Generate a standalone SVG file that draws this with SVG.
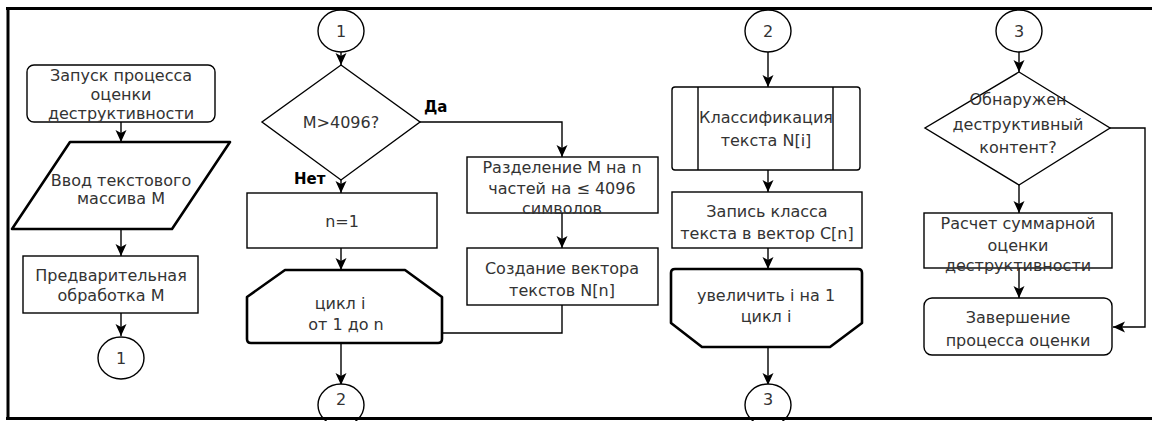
<svg xmlns="http://www.w3.org/2000/svg" width="1152" height="421" viewBox="0 0 1152 421">
<defs>
<marker id="ah" markerUnits="userSpaceOnUse" markerWidth="14" markerHeight="14" viewBox="0 0 14 14" refX="12" refY="7" orient="auto">
<path d="M0,1.5 L12,7 L0,12.5 L3,7 Z" fill="#000"/>
</marker>
<style>
.s{fill:#fff;stroke:#000;stroke-width:1.4}
.k{fill:#fff;stroke:#000;stroke-width:2.6;stroke-linejoin:round}
.t{font-family:"DejaVu Sans","Liberation Sans",sans-serif;font-size:16px;fill:#333;text-anchor:middle;dominant-baseline:central}
.b{font-family:"DejaVu Sans","Liberation Sans",sans-serif;font-size:15px;font-weight:bold;fill:#000}
.c{fill:none;stroke:#000;stroke-width:1.4}
.a{fill:none;stroke:#000;stroke-width:1.4;marker-end:url(#ah)}
</style>
</defs>
<rect width="1152" height="421" fill="#fff"/>

<g id="connectors">
<line class="a" x1="121" y1="122" x2="121" y2="142"/>
<line class="a" x1="121" y1="229" x2="121" y2="256"/>
<line class="a" x1="121" y1="313" x2="121" y2="336"/>
<line class="a" x1="341" y1="52" x2="341" y2="65"/>
<polyline class="a" points="420,122 562,122 562,157"/>
<line class="a" x1="341" y1="180" x2="341" y2="193"/>
<line class="a" x1="341" y1="248" x2="341" y2="270"/>
<line class="a" x1="562" y1="213" x2="562" y2="248"/>
<polyline class="c" points="442,333 562,333 562,305"/>
<line class="a" x1="341" y1="343" x2="341" y2="385"/>
<line class="a" x1="768" y1="52" x2="768" y2="87"/>
<line class="a" x1="768" y1="170" x2="768" y2="192"/>
<line class="a" x1="768" y1="248" x2="768" y2="269"/>
<line class="a" x1="768" y1="347" x2="768" y2="385"/>
<line class="a" x1="1019" y1="52" x2="1019" y2="72"/>
<polyline class="a" points="1110,128 1145,128 1145,327 1113,327"/>
<line class="a" x1="1019" y1="185" x2="1019" y2="213"/>
<line class="a" x1="1019" y1="268" x2="1019" y2="298"/>
<text class="b" x="424" y="112">Да</text>
<text class="b" x="294" y="184">Нет</text>
</g>

<g id="start">
<rect class="s" x="27" y="65" width="188" height="57" rx="7"/>
<text class="t" x="121" y="75">Запуск процесса</text>
<text class="t" x="121" y="94">оценки</text>
<text class="t" x="121" y="113">деструктивности</text>
</g>
<g id="input">
<path class="k" d="M70,142 L230,142 L172,229 L12,229 Z"/>
<text class="t" x="121" y="180">Ввод текстового</text>
<text class="t" x="121" y="198">массива М</text>
</g>
<g id="preproc">
<rect class="s" x="23" y="256" width="175" height="57"/>
<text class="t" x="111" y="275">Предварительная</text>
<text class="t" x="111" y="295">обработка М</text>
</g>
<g id="conn1a">
<ellipse class="s" cx="121" cy="358" rx="23" ry="21"/>
<text class="t" x="121" y="358">1</text>
</g>

<g id="conn1b">
<ellipse class="s" cx="341" cy="31" rx="23" ry="21"/>
<text class="t" x="341" y="31">1</text>
</g>
<g id="decision1">
<path class="s" d="M341,65 L420,122 L341,180 L262,122 Z"/>
<text class="t" x="341" y="122">M&gt;4096?</text>
</g>
<g id="n1">
<rect class="s" x="247" y="193" width="190" height="55"/>
<text class="t" x="342" y="221">n=1</text>
</g>
<g id="loopstart">
<path class="k" d="M247,297 L285,270 L405,270 L442,297 L442,339 Q442,343 438,343 L251,343 Q247,343 247,339 Z"/>
<text class="t" x="340" y="303">цикл i</text>
<text class="t" x="346" y="324">от 1 до n</text>
</g>
<g id="conn2a">
<ellipse class="s" cx="341" cy="405" rx="23" ry="21"/>
<text class="t" x="341" y="399">2</text>
</g>

<g id="split">
<rect class="s" x="467" y="157" width="191" height="56"/>
<text class="t" x="562" y="167">Разделение М на n</text>
<text class="t" x="562" y="188">частей на ≤ 4096</text>
<text class="t" x="562" y="208">символов</text>
</g>
<g id="vector">
<rect class="s" x="467" y="248" width="191" height="57"/>
<text class="t" x="562" y="268">Создание вектора</text>
<text class="t" x="562" y="290">текстов N[n]</text>
</g>

<g id="conn2b">
<ellipse class="s" cx="768" cy="31" rx="23" ry="21"/>
<text class="t" x="768" y="31">2</text>
</g>
<g id="classify">
<rect class="s" x="672" y="87" width="188" height="83" rx="3"/>
<line class="c" x1="698" y1="87" x2="698" y2="170"/>
<line class="c" x1="833" y1="87" x2="833" y2="170"/>
<text class="t" x="766" y="117">Классификация</text>
<text class="t" x="766" y="140">текста N[i]</text>
</g>
<g id="record">
<rect class="s" x="672" y="192" width="190" height="56"/>
<text class="t" x="767" y="211">Запись класса</text>
<text class="t" x="767" y="233">текста в вектор C[n]</text>
</g>
<g id="loopend">
<path class="k" d="M675,269 L858,269 Q862,269 862,273 L862,323 L830,347 L702,347 L671,323 L671,273 Q671,269 675,269 Z"/>
<text class="t" x="766" y="295">увеличить i на 1</text>
<text class="t" x="766" y="316">цикл i</text>
</g>
<g id="conn3a">
<ellipse class="s" cx="768" cy="405" rx="23" ry="21"/>
<text class="t" x="768" y="399">3</text>
</g>

<g id="conn3b">
<ellipse class="s" cx="1019" cy="31" rx="23" ry="21"/>
<text class="t" x="1019" y="31">3</text>
</g>
<g id="decision2">
<path class="s" d="M1019,72 L1110,128 L1019,185 L925,128 Z"/>
<text class="t" x="1018" y="99">Обнаружен</text>
<text class="t" x="1018" y="124">деструктивный</text>
<text class="t" x="1018" y="147">контент?</text>
</g>
<g id="total">
<rect class="s" x="924" y="213" width="188" height="55"/>
<text class="t" x="1018" y="223">Расчет суммарной</text>
<text class="t" x="1018" y="245">оценки</text>
<text class="t" x="1018" y="265">деструктивности</text>
</g>
<g id="end">
<rect class="s" x="924" y="298" width="188" height="57" rx="8"/>
<text class="t" x="1018" y="317">Завершение</text>
<text class="t" x="1018" y="340">процесса оценки</text>
</g>

<g id="frame">
<line x1="6" y1="8.5" x2="1152" y2="8.5" stroke="#000" stroke-width="3"/>
<line x1="8" y1="7" x2="8" y2="420" stroke="#000" stroke-width="3"/>
<line x1="6" y1="418.5" x2="1152" y2="418.5" stroke="#000" stroke-width="3"/>
</g>
</svg>
